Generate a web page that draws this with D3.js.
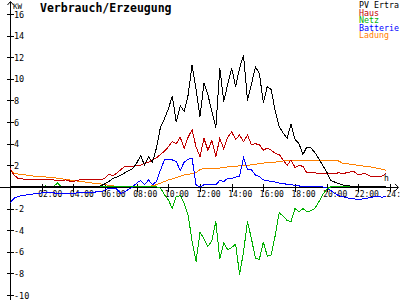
<!DOCTYPE html>
<html>
<head>
<meta charset="utf-8">
<script src="https://cdn.jsdelivr.net/npm/d3@7"></script>
<style>
  body { margin: 0; background: #fff; }
  svg { display: block; }
  text { font-family: "DejaVu Sans Mono", monospace; fill: #000; }
</style>
</head>
<body>
<div id="chart"></div>
<script>
// 15 minute steps, 00:00 .. 23:45
var hours = d3.range(0, 24, 0.25);

var pv = [
  0,0,0,0, 0,0,0,0, 0,0,0,0, 0,0,0,0, 0,0,0,0, 0,0,0,0.1,
  0.3,0.5,0.8,0.9, 1.1,1.3,1.5,1.7, 2.2,2.9,2.0,2.8, 2.3,3.6,5.5,6.3,
  7.2,8.4,6.0,7.5, 7.0,8.5,11.3,9.0, 6.5,9.6,8.5,7.0, 5.5,11.0,7.9,9.5,
  11.0,9.3,11.0,12.2, 8.0,9.5,11.1,10.5, 7.8,9.3,9.0,7.0, 5.6,5.0,4.5,5.8,
  4.4,4.0,3.0,3.7, 3.6,3.2,2.6,2.0, 1.4,0.6,0.45,0.3, 0.2,0.1,0.08,0.08,
  0.08,0.08,0.08,0.08, 0.08,0.08,0.08,0.08
];
var haus = [
  1.7,1.1,0.8,0.75, 0.7,0.7,0.7,0.65, 0.65,0.65,0.65,0.65, 0.6,0.6,0.65,0.55,
  0.5,0.6,0.7,0.7, 0.7,0.7,0.7,0.65, 0.8,1.2,1.0,1.3, 1.6,1.9,1.9,1.9,
  2.0,2.0,2.2,2.3, 2.5,2.7,3.0,3.3, 3.7,4.2,4.0,4.6, 3.6,4.6,5.3,3.7,
  2.8,4.5,3.4,4.3, 2.8,4.5,3.5,4.6, 5.1,4.4,4.8,4.2, 4.8,3.9,4.0,3.9,
  3.4,3.6,3.4,3.1, 3.0,2.5,2.0,2.5, 1.8,2.0,1.9,1.3, 1.3,1.3,1.25,1.25,
  1.25,1.25,1.25,1.3, 1.25,1.3,1.4,1.4, 1.1,1.2,1.2,1.0, 1.0,1.0,1.0,1.25
];
var netz = [
  0,0,0,0, 0,0,0,0, 0,0.1,0,0.05, 0.35,0,0,0, 0,0,0,0, 0,0,0,0,
  0,0,0,0, 0,0,0,0, 0,0,0,0, 0,0,-0.1,-0.7,
  -1.2,-2.0,-0.9,-0.8, -1.5,-2.6,-5.0,-6.9, -4.2,-4.8,-5.5,-5.0, -3.2,-6.7,-5.2,-5.8,
  -5.6,-5.3,-8.1,-6.0, -3.2,-4.8,-6.6,-6.7, -5.1,-6.4,-6.3,-4.5, -2.4,-2.7,-3.1,-3.2,
  -2.0,-2.3,-2.0,-2.3, -2.2,-2.0,-1.4,-0.7, -0.2,0,0,0, 0,0,0,0,
  0,0,0,0, 0,0,0,0
];
var batterie = [
  -1.5,-1.05,-0.9,-0.8, -0.75,-0.7,-0.65,-0.6, -0.55,-0.5,-0.5,-0.55, -0.6,-0.6,-0.6,-0.6,
  -0.6,-0.55,-0.5,-0.5, -0.5,-0.5,-0.45,-0.45, -0.3,-0.1,-0.1,-0.2, -0.6,-0.45,-0.2,0.0,
  0.35,0.6,0.2,0.65, 0.2,0.5,1.55,2.5, 2.5,2.5,2.35,1.5, 2.3,2.55,2.65,0.2,
  0.0,0.2,0.2,0.2, 0.2,0.6,0.5,0.8, 0.8,0.9,1.0,2.7, 1.6,1.6,1.1,0.95,
  0.65,0.6,0.5,0.45, 0.35,0.3,0.25,0.2, 0.15,0.1,0.0,0.0, 0.0,0.0,0.0,0.0,
  -0.1,-0.3,-0.6,-0.8, -0.9,-1.0,-1.05,-1.1, -1.2,-1.1,-1.05,-1.0, -0.9,-0.9,-0.95,-0.9
];
var ladung = [
  1.7,1.25,1.2,1.15, 1.1,1.05,1.0,0.98, 0.95,0.92,0.9,0.88, 0.8,0.75,0.7,0.65,
  0.6,0.55,0.5,0.45, 0.4,0.35,0.3,0.27, 0.2,0.15,0.1,0.05, 0.02,0,0,0,
  0,0,0.02,0.05, 0.1,0.2,0.35,0.5, 0.65,0.75,0.85,1.0, 1.1,1.15,1.25,1.3,
  1.6,1.7,1.7,1.7, 1.75,1.75,1.8,1.85, 1.9,1.9,1.95,2.0, 2.0,2.05,2.1,2.15,
  2.2,2.25,2.3,2.3, 2.35,2.4,2.4,2.4, 2.4,2.4,2.4,2.4, 2.4,2.4,2.4,2.4,
  2.4,2.4,2.4,2.4, 2.2,2.15,2.1,2.05, 2.0,1.95,1.9,1.85, 1.8,1.7,1.65,1.55
];

var seriesNames = ["PV Ertra", "Haus", "Netz", "Batterie", "Ladung"];
var seriesColors = ["#000000", "#c00000", "#00b000", "#0000ff", "#ff8000"];
var xTickHours = [2, 4, 6, 8, 10, 12, 14, 16, 18, 20, 22, 24];
var yTickValues = [-10, -8, -6, -4, -2, 2, 4, 6, 8, 10, 12, 14, 16];

var width = 400, height = 300;

var x = d3.scaleLinear().domain([0, 24]).range([10, 390]);
var y = d3.scaleLinear().domain([-10, 16]).range([295, 14]);

var svg = d3.select("#chart")
  .append("svg")
  .attr("width", width)
  .attr("height", height);

// axes lines with arrows
var axes = svg.append("g").attr("stroke", "#000").attr("shape-rendering", "crispEdges");
axes.append("line").attr("x1", 0).attr("x2", 398).attr("y1", Math.round(y(0)) + 0.5).attr("y2", Math.round(y(0)) + 0.5);
axes.append("line").attr("x1", x(0) + 0.5).attr("x2", x(0) + 0.5).attr("y1", 2).attr("y2", 300);

svg.append("path")
  .attr("d", "M" + (x(0) - 2.5) + ",5 L" + (x(0) + 0.5) + ",1.5 L" + (x(0) + 3.5) + ",5")
  .attr("fill", "none").attr("stroke", "#000");
svg.append("path")
  .attr("d", "M395," + (y(0) - 3) + " L398.5," + (y(0) + 0.5) + " L395," + (y(0) + 4))
  .attr("fill", "none").attr("stroke", "#000");

// y ticks
var yt = svg.append("g");
yt.selectAll("line").data(yTickValues).enter().append("line")
  .attr("x1", 7).attr("x2", 14)
  .attr("y1", function(d) { return Math.round(y(d)) + 0.5; })
  .attr("y2", function(d) { return Math.round(y(d)) + 0.5; })
  .attr("stroke", "#000").attr("shape-rendering", "crispEdges");
yt.selectAll("text").data(yTickValues).enter().append("text")
  .attr("x", 14)
  .attr("y", function(d) { return y(d) + 3.5; })
  .attr("font-size", 8.5)
  .text(function(d) { return d; });

svg.append("text").attr("x", 13).attr("y", 9).attr("font-size", 7.5).text("KW");

// x ticks
var xt = svg.append("g");
xt.selectAll("line").data(xTickHours).enter().append("line")
  .attr("x1", function(d) { return Math.round(x(d)) + 0.5; })
  .attr("x2", function(d) { return Math.round(x(d)) + 0.5; })
  .attr("y1", y(0) - 3).attr("y2", y(0) + 5)
  .attr("stroke", "#000").attr("shape-rendering", "crispEdges");
xt.selectAll("text").data(xTickHours).enter().append("text")
  .attr("x", function(d) { return x(d) - 3.5; })
  .attr("y", y(0) + 10)
  .attr("font-size", 8)
  .text(function(d) { return (d < 10 ? "0" : "") + d + ":00"; });

// lines
var allSeries = [pv, haus, netz, batterie, ladung];
var line = d3.line()
  .x(function(d, i) { return x(hours[i]); })
  .y(function(d) { return y(d); });

var order = [4, 3, 2, 1, 0];
order.forEach(function(k) {
  svg.append("path")
    .datum(allSeries[k])
    .attr("d", line)
    .attr("fill", "none")
    .attr("stroke", seriesColors[k])
    .attr("stroke-width", 1)
    .attr("shape-rendering", "crispEdges");
});

svg.append("text").attr("x", 384).attr("y", 181).attr("font-size", 8).text("h");

// title
svg.append("text")
  .attr("x", 40).attr("y", 12)
  .attr("font-size", 11.5)
  .attr("font-weight", "bold")
  .text("Verbrauch/Erzeugung");

// legend
svg.append("g").selectAll("text").data(seriesNames).enter().append("text")
  .attr("x", 359)
  .attr("y", function(d, i) { return 8 + i * 7.6; })
  .attr("font-size", 8.3)
  .attr("fill", function(d, i) { return seriesColors[i]; })
  .style("fill", function(d, i) { return seriesColors[i]; })
  .text(function(d) { return d; });
</script>
</body>
</html>
